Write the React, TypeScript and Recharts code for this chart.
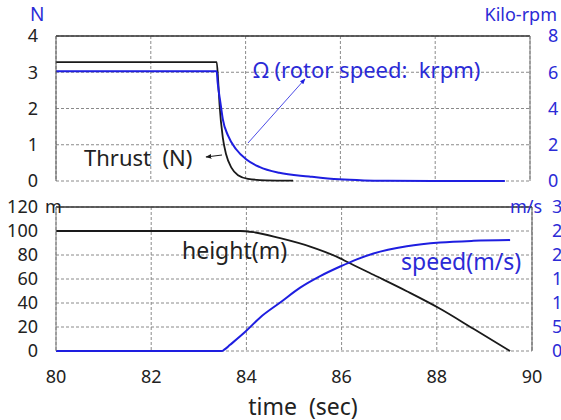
import React from 'react';
import { LineChart, Line, XAxis, YAxis, CartesianGrid, ReferenceLine } from 'recharts';

// top panel: thrust (N) and rotor speed (krpm)
const thrustTime = [80, 83.39, 83.42, 83.45, 83.52, 83.59, 83.7, 83.84, 84.05, 84.43, 85.0];
const thrustN = [3.28, 3.28, 2.8, 2.11, 1.19, 0.73, 0.37, 0.16, 0.06, 0.02, 0.01];

const omegaTime = [80, 83.39, 83.41, 83.47, 83.52, 83.63, 83.8, 84.01, 84.29, 84.71, 85.34, 85.97, 86.5, 87.0, 88.0, 89.47];
const omegaKrpm = [6.06, 6.06, 5.45, 4.3, 3.4, 2.5, 1.75, 1.2, 0.78, 0.45, 0.25, 0.09, 0.03, 0.01, 0, 0];

// bottom panel: height (m) and speed (m/s)
const heightTime = [80, 83.87, 84.15, 84.71, 85.34, 85.97, 86.11, 86.67, 87.37, 88.07, 88.77, 89.54];
const heightM = [100, 100, 99, 94, 87, 77.2, 74.4, 63.5, 49.8, 35.2, 18.5, 0];

const speedTime = [80, 83.49, 83.55, 83.65, 83.97, 84.29, 84.71, 85.13, 85.55, 85.97, 86.32, 86.67, 87.37, 88.07, 88.77, 89.54];
const speedMs = [0, 0, 0.4, 1.23, 3.95, 7.0, 10.1, 13.2, 15.6, 17.6, 19.1, 20.3, 21.8, 22.6, 22.95, 23.1];

const xTicks = [80, 82, 84, 86, 88, 90];
const forceTicks = [0, 1, 2, 3, 4];
const rpmTicks = [0, 2, 4, 6, 8];
const heightTicks = [0, 20, 40, 60, 80, 100, 120];
const speedTicks = [0, 5, 10, 15, 20, 25, 30];

const zip = (ts: number[], vs: number[]) => ts.map((t, i) => ({ t, v: vs[i] }));

const thrustData = zip(thrustTime, thrustN);
const omegaData = zip(omegaTime, omegaKrpm);
const heightData = zip(heightTime, heightM);
const speedData = zip(speedTime, speedMs);

const FONT = '"Noto Sans", "DejaVu Sans", sans-serif';
const BLUE = '#1e1ee0';
const BLUE_TXT = '#2b2bd6';
const INK = '#1a1a1a';
const GRID = '#8a8a8a';

const tickDark = { fontSize: 18, fill: '#222', fontFamily: FONT };
const tickBlue = { fontSize: 18, fill: BLUE_TXT, fontFamily: FONT };
const pre = { whiteSpace: 'pre' } as React.CSSProperties;

export default function App() {
  return (
    <div style={{ position: 'absolute', left: 0, top: 0, width: 561, height: 420, overflow: 'hidden', background: '#fff' }}>
      {/* top chart */}
      <div style={{ position: 'absolute', left: 0, top: 0 }}>
        <LineChart width={600} height={200} margin={{ top: 36, right: 20, bottom: 19, left: 0 }}>
          <CartesianGrid yAxisId="l" stroke={GRID} strokeDasharray="3 2" />
          <XAxis dataKey="t" type="number" domain={[80, 90]} ticks={xTicks} hide allowDuplicatedCategory={false} />
          <YAxis yAxisId="l" domain={[0, 4]} ticks={forceTicks} interval={0} width={56} tickLine={false} tickSize={0}
            tickMargin={18} axisLine={{ stroke: '#555' }} tick={tickDark} />
          <YAxis yAxisId="r" orientation="right" domain={[0, 8]} ticks={rpmTicks} interval={0} width={50} tickLine={false}
            tickSize={0} tickMargin={18} axisLine={{ stroke: '#777' }} tick={tickBlue} />
          <ReferenceLine yAxisId="l" y={4} stroke="#333" strokeWidth={1.5} />
          <Line yAxisId="l" data={thrustData} dataKey="v" type="monotone" stroke={INK} strokeWidth={1.8} dot={false} isAnimationActive={false} />
          <Line yAxisId="r" data={omegaData} dataKey="v" type="monotone" stroke={BLUE} strokeWidth={2} dot={false} isAnimationActive={false} />
        </LineChart>
      </div>
      {/* bottom chart */}
      <div style={{ position: 'absolute', left: 0, top: 0 }}>
        <LineChart width={600} height={420} margin={{ top: 207, right: 18, bottom: 39, left: 0 }}>
          <CartesianGrid yAxisId="l" stroke={GRID} strokeDasharray="3 2" />
          <XAxis dataKey="t" type="number" domain={[80, 90]} ticks={xTicks} interval={0} height={30} axisLine={false}
            tickLine={false} tickSize={0} tickMargin={19} tick={tickDark} allowDuplicatedCategory={false} />
          <YAxis yAxisId="l" domain={[0, 120]} ticks={heightTicks} interval={0} width={56} tickLine={false} tickSize={0}
            tickMargin={18} axisLine={{ stroke: '#777' }} tick={tickDark} />
          <YAxis yAxisId="r" orientation="right" domain={[0, 30]} ticks={speedTicks} interval={0} width={50} tickLine={false}
            tickSize={0} tickMargin={20} axisLine={{ stroke: '#555' }} tick={tickBlue} />
          <ReferenceLine yAxisId="l" y={120} stroke="#333" strokeWidth={1.5} />
          <Line yAxisId="l" data={heightData} dataKey="v" type="monotone" stroke={INK} strokeWidth={1.8} dot={false} isAnimationActive={false} />
          <Line yAxisId="r" data={speedData} dataKey="v" type="monotone" stroke={BLUE} strokeWidth={2} dot={false} isAnimationActive={false} />
        </LineChart>
      </div>
      {/* labels and annotations */}
      <svg width={561} height={420} style={{ position: 'absolute', left: 0, top: 0, pointerEvents: 'none' }}
        fontFamily={FONT}>
        <defs>
          <marker id="ab" viewBox="0 0 10 10" refX="9" refY="5" markerWidth="7" markerHeight="7" orient="auto">
            <path d="M0,1 L10,5 L0,9 z" fill={BLUE} />
          </marker>
          <marker id="ak" viewBox="0 0 10 10" refX="9" refY="5" markerWidth="6" markerHeight="6" orient="auto">
            <path d="M0,1 L10,5 L0,9 z" fill={INK} />
          </marker>
        </defs>
        <text x={30} y={21} fontSize={19} fill={BLUE_TXT}>N</text>
        <text x={557} y={21} fontSize={18} fill={BLUE_TXT} textAnchor="end">Kilo-rpm</text>
        <text x={45} y={213} fontSize={18} fill="#222">m</text>
        <text x={510} y={213} fontSize={18} fill={BLUE_TXT}>m/s</text>
        <text x={253} y={78} fontSize={22} fill={BLUE_TXT} style={pre}>Ω (rotor speed:  krpm)</text>
        <text x={84} y={166} fontSize={22} fill="#222" style={pre}>Thrust  (N)</text>
        <line x1={222} y1={155} x2={206} y2={157} stroke={INK} strokeWidth={1} markerEnd="url(#ak)" />
        <line x1={248} y1={143} x2={305} y2={79} stroke={BLUE} strokeWidth={0.8} markerEnd="url(#ab)" />
        <text x={182} y={259} fontSize={23} fill="#222">height(m)</text>
        <text x={401} y={270} fontSize={23} fill={BLUE_TXT}>speed(m/s)</text>
        <text x={303} y={415} fontSize={23} fill="#222" textAnchor="middle" style={pre}>time  (sec)</text>
      </svg>
    </div>
  );
}
